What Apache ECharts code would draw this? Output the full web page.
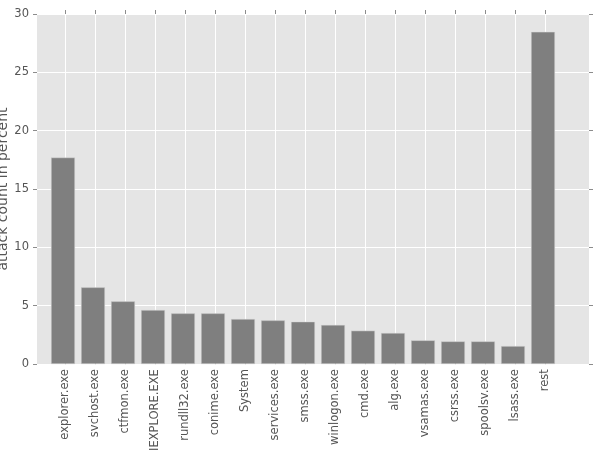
<!DOCTYPE html>
<html>
<head>
<meta charset="utf-8">
<script src="https://cdn.jsdelivr.net/npm/echarts@6/dist/echarts.min.js"></script>
<style>html,body{margin:0;padding:0;background:#fff;}#c{width:597px;height:454px;}</style>
</head>
<body>
<div id="c"></div>
<script>
const categories = ["explorer.exe","svchost.exe","ctfmon.exe","IEXPLORE.EXE","rundll32.exe","conime.exe","System","services.exe","smss.exe","winlogon.exe","cmd.exe","alg.exe","vsamas.exe","csrss.exe","spoolsv.exe","lsass.exe","rest"];
const values = [17.7, 6.57, 5.37, 4.63, 4.34, 4.34, 3.86, 3.74, 3.63, 3.35, 2.86, 2.66, 2.03, 1.94, 1.94, 1.54, 28.47];
const yTicks = [0, 5, 10, 15, 20, 25, 30];
const yTitle = 'attack count in percent';

const FONT = 'DejaVu Sans';
const tickColor = '#8c8c8c';
const chart = echarts.init(document.getElementById('c'), null, {renderer: 'canvas'});
const gTop = 14, gBottom = 90;
chart.setOption({
  animation: false,
  graphic: [{
    type: 'text', x: 3, y: 189, rotation: Math.PI / 2,
    style: {text: yTitle, fill: '#555', font: '14px "DejaVu Sans"', align: 'center', verticalAlign: 'middle'}
  }],
  grid: [
    {left: 37, right: 8, top: gTop, bottom: gBottom, show: true, backgroundColor: '#e5e5e5', borderWidth: 0},
    {left: 48, right: 39, top: gTop, bottom: gBottom},
    {left: 65, right: 52, top: gTop, bottom: gBottom}
  ],
  xAxis: [
    {gridIndex: 0, type: 'value', min: 0, max: 1, show: false},
    {gridIndex: 1, type: 'category', data: categories, boundaryGap: true, show: false},
    {gridIndex: 2, type: 'category', data: categories, boundaryGap: false, position: 'bottom',
      axisLine: {show: false},
      axisTick: {show: true, interval: 0, length: 4, lineStyle: {color: tickColor}},
      splitLine: {show: true, interval: 0, lineStyle: {color: '#ffffff', width: 1}},
      axisLabel: {interval: 0, rotate: 90, margin: 9, color: '#555', fontFamily: FONT, fontSize: 11.5}
    },
    {gridIndex: 2, type: 'category', data: categories, boundaryGap: false, position: 'top',
      axisLine: {show: false},
      axisTick: {show: true, interval: 0, length: 4, lineStyle: {color: tickColor}},
      axisLabel: {show: false}, splitLine: {show: false}
    }
  ],
  yAxis: [
    {gridIndex: 0, type: 'value', min: 0, max: 30, interval: 5, position: 'left',
      axisLine: {show: false},
      axisTick: {show: true, length: 4, lineStyle: {color: tickColor}},
      splitLine: {show: true, lineStyle: {color: '#ffffff', width: 1}},
      axisLabel: {color: '#555', fontFamily: FONT, fontSize: 11.5, margin: 8,
        formatter: v => yTicks.includes(v) ? String(v) : ''}
    },
    {gridIndex: 0, type: 'value', min: 0, max: 30, interval: 5, position: 'right',
      axisLine: {show: false},
      axisTick: {show: true, length: 4, lineStyle: {color: tickColor}},
      splitLine: {show: false}, axisLabel: {show: false}
    },
    {gridIndex: 1, type: 'value', min: 0, max: 30, show: false},
    {gridIndex: 2, type: 'value', min: 0, max: 30, show: false}
  ],
  series: [{
    type: 'bar',
    xAxisIndex: 1, yAxisIndex: 2,
    data: values,
    barWidth: 24,
    itemStyle: {color: '#7f7f7f', borderColor: '#d8d8d8', borderWidth: 0.5}
  }]
});
</script>
</body>
</html>
